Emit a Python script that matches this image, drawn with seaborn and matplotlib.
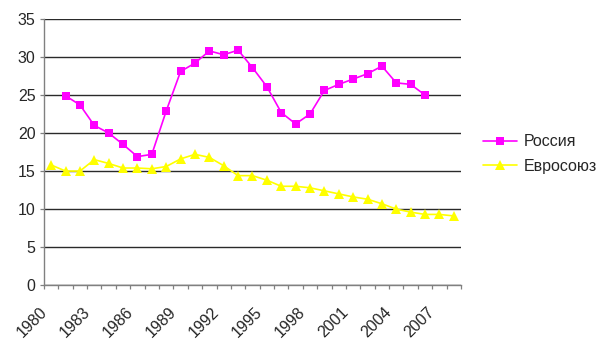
import pandas as pd
import seaborn as sns
import matplotlib.pyplot as plt
import matplotlib.transforms as mtransforms
import numpy as np

years = list(range(1980, 2009))
russia_years = list(range(1981, 2007))
russia = [24.9, 23.7, 21.0, 20.0, 18.5, 16.9, 17.2, 22.9, 28.1, 29.2, 30.8, 30.3, 30.9,
          28.6, 26.1, 22.7, 21.2, 22.5, 25.6, 26.4, 27.1, 27.8, 28.8, 26.6, 26.4, 25.0]
eu = [15.8, 15.0, 15.0, 16.5, 16.0, 15.4, 15.4, 15.3, 15.6, 16.6, 17.2, 16.8, 15.7, 14.4,
      14.4, 13.8, 13.0, 13.0, 12.8, 12.4, 12.0, 11.6, 11.3, 10.7, 10.0, 9.6, 9.3, 9.3, 9.1]
label_years = [1980, 1983, 1986, 1989, 1992, 1995, 1998, 2001, 2004, 2007]

sns.set_style("white")
plt.rcParams['font.family'] = ['Liberation Sans', 'DejaVu Sans']

df_ru = pd.DataFrame({'idx': [y - 1980 for y in russia_years], 'val': russia})
df_eu = pd.DataFrame({'idx': [y - 1980 for y in years], 'val': eu})

fig = plt.figure(figsize=(6, 3.49), dpi=100)
ax = fig.add_axes([0.0733, 0.183, 0.695, 0.7626])

sns.lineplot(data=df_ru, x='idx', y='val', ax=ax, color='#FF00FF', marker='s',
             markersize=5.5, markeredgewidth=0, linewidth=1.2, label='Россия', zorder=3)
sns.lineplot(data=df_eu, x='idx', y='val', ax=ax, color='#FFFF00', marker='^',
             markersize=6.5, markeredgewidth=0, linewidth=1.2, label='Евросоюз', zorder=3)

ax.set_xlim(-0.5, len(years) - 0.5)
ax.set_ylim(0, 35)
ax.set_yticks(range(0, 36, 5))
ax.yaxis.grid(True, color='#2a2a2a', linewidth=1.0)
ax.set_axisbelow(True)

bounds = np.arange(-0.5, len(years), 1.0)
ax.set_xticks(bounds)
ax.set_xticklabels([str(int(b + 0.5 + 1980)) if int(b + 0.5 + 1980) in label_years else ''
                    for b in bounds], rotation=45, ha='right', rotation_mode='anchor')
ax.tick_params(axis='x', length=3, width=0.9, color='#808080', direction='out', pad=11,
               labelsize=11.5, bottom=True)
ax.tick_params(axis='y', length=3, width=0.9, color='#808080', direction='out', pad=3,
               labelsize=11.5, left=True)
offset = mtransforms.ScaledTranslation(-5 / 100, 0, fig.dpi_scale_trans)
for lab in ax.get_xticklabels():
    lab.set_transform(lab.get_transform() + offset)
for s in ['right', 'top']:
    ax.spines[s].set_visible(False)
for s in ['left', 'bottom']:
    ax.spines[s].set_color('#808080')
    ax.spines[s].set_linewidth(1.0)
ax.set_xlabel('')
ax.set_ylabel('')

ax.legend(loc='center left', bbox_to_anchor=(0.805, 0.559), bbox_transform=fig.transFigure,
          frameon=False, fontsize=11.5, handlelength=2.1, handletextpad=0.45,
          labelspacing=0.6, borderpad=0, borderaxespad=0)

plt.savefig('out.png', dpi=100)
plt.close()
